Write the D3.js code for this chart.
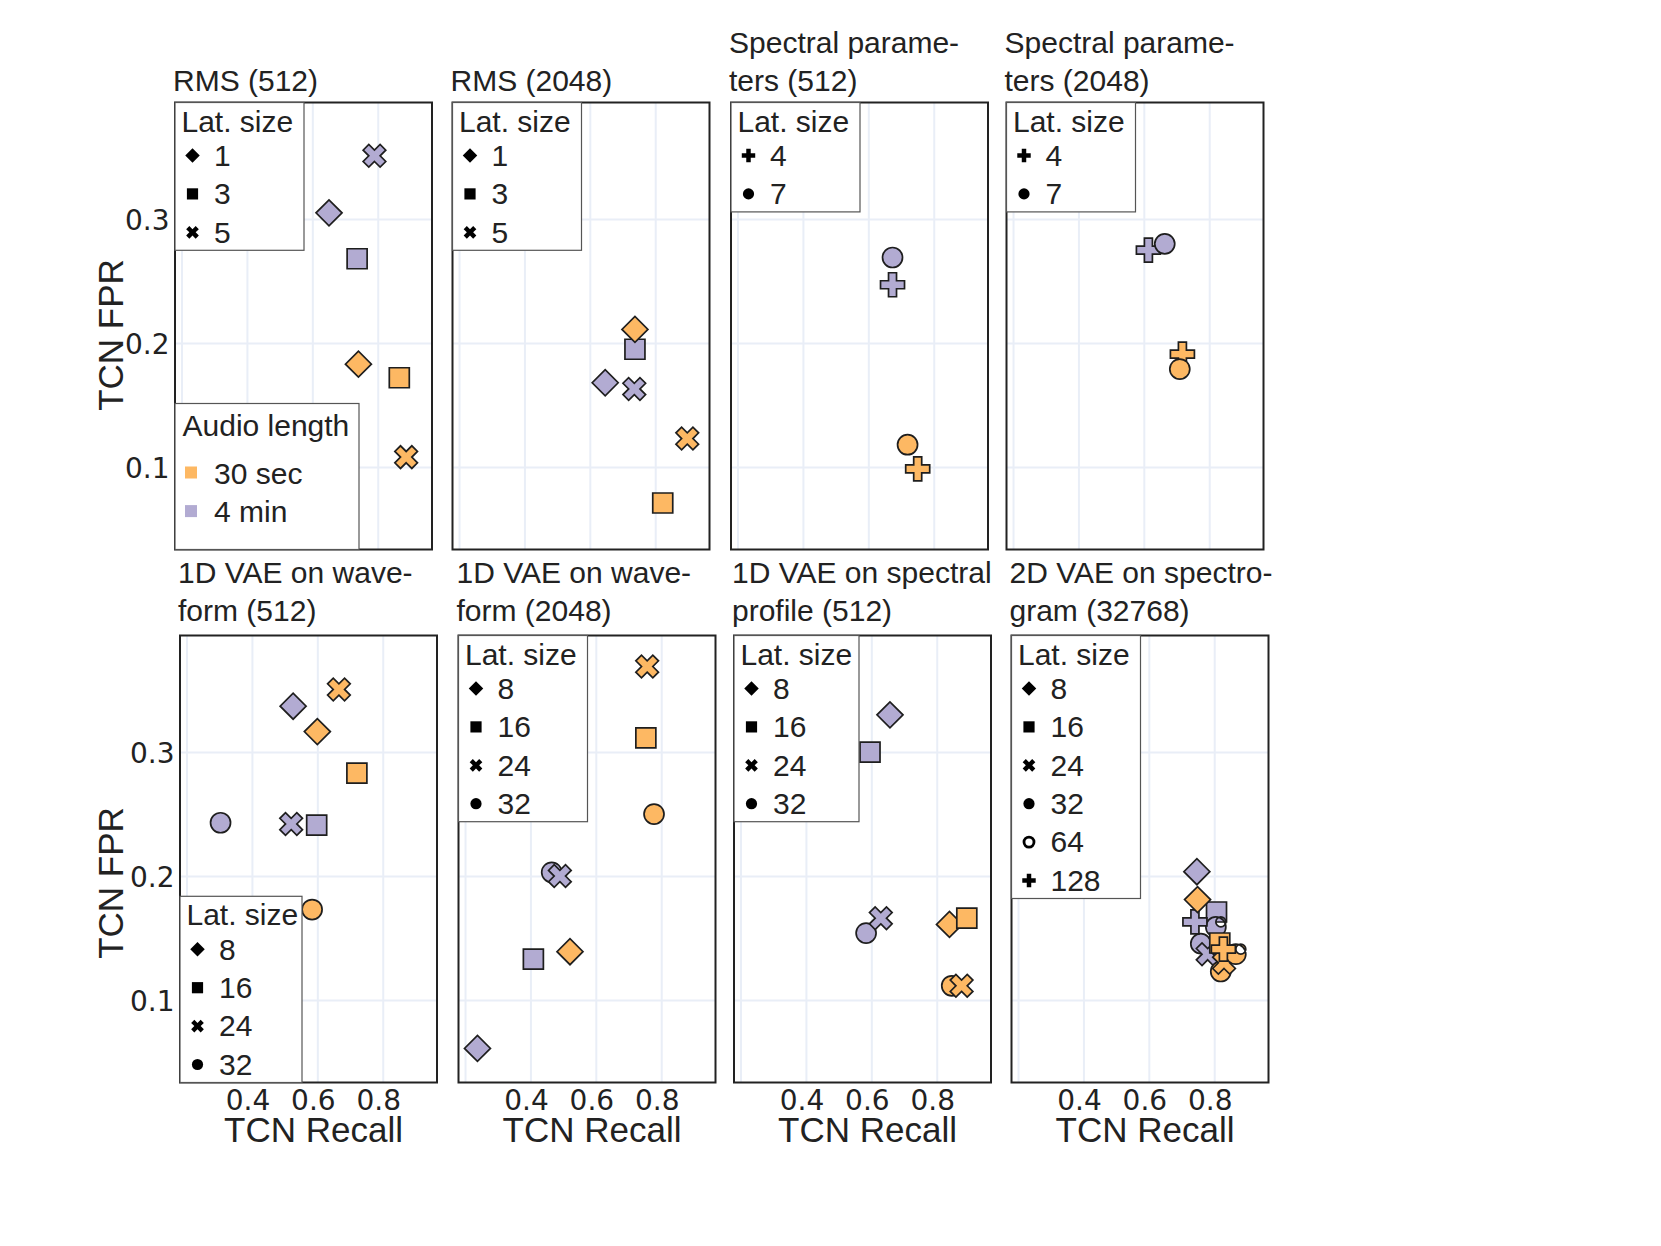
<!DOCTYPE html>
<html><head><meta charset="utf-8">
<script src="https://cdn.jsdelivr.net/npm/d3@7"></script>
<style>
body{margin:0;background:#fff}
svg{display:block}
text{font-family:"Liberation Sans",Arial,Helvetica,sans-serif;fill:#222}
text.tick-label{font-family:"DejaVu Sans",Verdana,sans-serif}
</style>
</head><body>
<svg id="chart" width="1661" height="1246"></svg>
<script>
// ---------------- data ----------------
const titles = [
  ["RMS (512)"],
  ["RMS (2048)"],
  ["Spectral parame-", "ters (512)"],
  ["Spectral parame-", "ters (2048)"],
  ["1D VAE on wave-", "form (512)"],
  ["1D VAE on wave-", "form (2048)"],
  ["1D VAE on spectral", "profile (512)"],
  ["2D VAE on spectro-", "gram (32768)"]
];
const latSizes = [
  [1, 3, 5], [1, 3, 5], [4, 7], [4, 7],
  [8, 16, 24, 32], [8, 16, 24, 32], [8, 16, 24, 32], [8, 16, 24, 32, 64, 128]
];
const latSymbols = [
  ["diamond", "square", "x"], ["diamond", "square", "x"],
  ["cross", "circle"], ["cross", "circle"],
  ["diamond", "square", "x", "circle"], ["diamond", "square", "x", "circle"],
  ["diamond", "square", "x", "circle"],
  ["diamond", "square", "x", "circle", "circle-open", "cross"]
];
const audioLengths = ["30 sec", "4 min"];

// 30 sec (orange)
const recall30 = [
  [0.741, 0.866, 0.887],
  [0.738, 0.823, 0.898],
  [0.751, 0.720],
  [0.718, 0.710],
  [0.600, 0.721, 0.666, 0.584],
  [0.521, 0.753, 0.757, 0.778],
  [0.839, 0.892, 0.876, 0.846],
  [0.749, 0.817, 0.830, 0.820, 0.866, 0.828]
];
const fpr30 = [
  [0.183, 0.172, 0.108],
  [0.211, 0.071, 0.123],
  [0.0985, 0.118],
  [0.191, 0.179],
  [0.3165, 0.283, 0.3505, 0.173],
  [0.139, 0.3115, 0.369, 0.250],
  [0.161, 0.166, 0.1115, 0.1115],
  [0.181, 0.146, 0.130, 0.123, 0.137, 0.141]
];
// 4 min (purple)
const recall4 = [
  [0.651, 0.737, 0.790],
  [0.647, 0.738, 0.736],
  [0.674, 0.674],
  [0.614, 0.664],
  [0.526, 0.598, 0.520, 0.304],
  [0.238, 0.409, 0.490, 0.465],
  [0.657, 0.596, 0.629, 0.584],
  [0.747, 0.807, 0.780, 0.759, 0.805, 0.741]
];
const fpr4 = [
  [0.305, 0.268, 0.351],
  [0.168, 0.195, 0.163],
  [0.247, 0.269],
  [0.275, 0.280],
  [0.337, 0.241, 0.242, 0.243],
  [0.061, 0.133, 0.200, 0.203],
  [0.330, 0.300, 0.166, 0.154],
  [0.2035, 0.171, 0.137, 0.1455, 0.159, 0.163]
];
const xGridTicks = [0.2, 0.4, 0.6, 0.8];
const xLabelTicks = [0.4, 0.6, 0.8];
const yTicks = [0.1, 0.2, 0.3];
const xDomain = [0.18, 0.966];
const yDomain = [0.0335, 0.394];

// ---------------- layout / style ----------------
const colors = {"30 sec": "#fdb863", "4 min": "#b2abd2"};
const gridColor = "#e9eef7";
const W = 257, H = 447;
const panelX = [175, 452.5, 731, 1006.5, 180, 458.5, 734, 1011.5];
const panelY = [102.5, 102.5, 102.5, 102.5, 635.5, 635.5, 635.5, 635.5];
const legendW = [129, 129, 129, 129, 122, 129, 125, 129];
const legendAtBottom = [false, false, false, false, true, false, false, false];
const titleBase = [91, 91, 91, 91, 621, 621, 621, 621];

function symbolPath(name, r) {
  const f = v => Math.round(v * 100) / 100;
  if (name === "diamond") { const d = f(r * 1.3); return `M${d},0L0,${d}L-${d},0L0,-${d}Z`; }
  if (name === "square") { const s = f(r); return `M${s},${s}H-${s}V-${s}H${s}Z`; }
  if (name === "circle") { return `M${r},0A${r},${r} 0 1,1 0,-${r}A${r},${r} 0 0,1 ${r},0Z`; }
  if (name === "circle-open") {
    const ri = r * 0.5;
    return `M${r},0A${r},${r} 0 1,1 0,-${r}A${r},${r} 0 0,1 ${r},0Z` +
           `M${ri},0A${ri},${ri} 0 1,0 0,-${ri}A${ri},${ri} 0 0,0 ${ri},0Z`;
  }
  if (name === "cross") {
    const a = f(r * 0.4), b = f(r * 1.2);
    return `M${b},${a}H${a}V${b}H-${a}V${a}H-${b}V-${a}H-${a}V-${b}H${a}V-${a}H${b}Z`;
  }
  if (name === "x") {
    const rx = f(r * 0.8 / Math.SQRT2);
    const ne = `l${rx},${rx}`, se = `l${rx},-${rx}`, sw = `l-${rx},-${rx}`, nw = `l-${rx},${rx}`;
    return `M0,${rx}` + ne + se + sw + se + sw + nw + sw + nw + ne + nw + ne + "Z";
  }
}

const svg = d3.select("#chart");
svg.append("rect").attr("width", 1661).attr("height", 1246).attr("fill", "#fff");

const x = d3.scaleLinear().domain(xDomain).range([0, W]);
const y = d3.scaleLinear().domain(yDomain).range([H, 0]);

titles.forEach((t, p) => {
  const g = svg.append("g").attr("transform", `translate(${panelX[p]},${panelY[p]})`);

  // gridlines
  const gx = g.append("g").attr("transform", `translate(0,${H})`)
    .call(d3.axisBottom(x).tickValues(xGridTicks).tickSize(-H).tickFormat(""));
  gx.select(".domain").remove();
  gx.selectAll("line").attr("stroke", gridColor).attr("stroke-width", 2);
  const gy = g.append("g")
    .call(d3.axisLeft(y).tickValues(yTicks).tickSize(-W).tickFormat(""));
  gy.select(".domain").remove();
  gy.selectAll("line").attr("stroke", gridColor).attr("stroke-width", 2);

  // markers: purple (4 min) first, then orange (30 sec)
  const n = latSizes[p].length;
  const order = d3.range(n);
  if (n >= 4) { order[2] = 3; order[3] = 2; } // 32 drawn before 24
  const series = [
    {len: "4 min", rx: recall4[p], fy: fpr4[p]},
    {len: "30 sec", rx: recall30[p], fy: fpr30[p]}
  ];
  series.forEach(s => {
    const pts = order.map(i => ({sym: latSymbols[p][i], r: s.rx[i], f: s.fy[i], len: s.len}));
    g.append("g").selectAll("path").data(pts).join("path")
      .attr("transform", d => `translate(${x(d.r)},${y(d.f)})`)
      .attr("d", d => symbolPath(d.sym, 10))
      .attr("fill", d => colors[d.len])
      .attr("fill-rule", "evenodd")
      .attr("stroke", "#1e1e1e")
      .attr("stroke-width", 1.7);
  });

  // frame
  g.append("rect").attr("width", W).attr("height", H)
    .attr("fill", "none").attr("stroke", "#222").attr("stroke-width", 2);

  // axes labels
  if (p >= 4) {
    const ax = g.append("g").attr("transform", `translate(0,${H})`)
      .call(d3.axisBottom(x).tickValues(xLabelTicks).tickSize(0).tickFormat(d3.format(".1f")));
    ax.select(".domain").remove();
    ax.attr("font-family", null).attr("font-size", null);
    ax.selectAll("text").attr("class", "tick-label").attr("y", 27).attr("dy", 0).attr("dx", -4.5)
      .style("font-size", "28px").attr("fill", "#111");
    g.append("text").attr("x", W / 2 + 5).attr("y", H + 59)
      .attr("text-anchor", "middle").style("font-size", "35px").text("TCN Recall");
  }
  if (p === 0 || p === 4) {
    const ay = g.append("g")
      .call(d3.axisLeft(y).tickValues(yTicks).tickSize(0).tickFormat(d3.format(".1f")));
    ay.select(".domain").remove();
    ay.attr("font-family", null).attr("font-size", null);
    ay.selectAll("text").attr("class", "tick-label").attr("x", -5.5).attr("dy", "0.37em")
      .style("font-size", "28px").attr("fill", "#111");
    const cy = p === 0 ? 335 - panelY[p] : 883 - panelY[p];
    g.append("text").attr("transform", `translate(${110.5 - panelX[p]},${cy}) rotate(-90)`)
      .attr("text-anchor", "middle").attr("dy", "0.358em")
      .style("font-size", "35px").text("TCN FPR");
  }

  // subplot title (bottom-anchored lines)
  t.forEach((line, i) => {
    svg.append("text").attr("x", panelX[p] - 2)
      .attr("y", titleBase[p] - (t.length - 1 - i) * 38)
      .style("font-size", "30px").text(line);
  });

  // lat size legend
  const lh = 53 + (n - 1) * 38.4 + 18;
  const ly = legendAtBottom[p] ? H - lh : 0;
  const lg = g.append("g").attr("transform", `translate(0,${ly})`);
  lg.append("rect").attr("width", legendW[p]).attr("height", lh)
    .attr("fill", "#fff").attr("stroke", "#555").attr("stroke-width", 1.2);
  lg.append("text").attr("x", 6.5).attr("y", 29).style("font-size", "30px").text("Lat. size");
  latSizes[p].forEach((ls, i) => {
    const cy = 53 + i * 38.4;
    const sym = latSymbols[p][i];
    if (sym === "circle-open") {
      lg.append("circle").attr("cx", 17.5).attr("cy", cy).attr("r", 5)
        .attr("fill", "none").attr("stroke", "#000").attr("stroke-width", 2.8);
    } else {
      lg.append("path").attr("transform", `translate(17.5,${cy})`)
        .attr("d", symbolPath(sym, 5.6)).attr("fill", "#000");
    }
    lg.append("text").attr("x", 39).attr("y", cy + 10.3).style("font-size", "30px").text(ls);
  });

  // audio length legend (first panel only)
  if (p === 0) {
    const ah = 146;
    const ag = g.append("g").attr("transform", `translate(0,${H - ah})`);
    ag.append("rect").attr("width", 184).attr("height", ah)
      .attr("fill", "#fff").attr("stroke", "#555").attr("stroke-width", 1.2);
    ag.append("text").attr("x", 7.5).attr("y", 32).style("font-size", "30px").text("Audio length");
    audioLengths.forEach((a, i) => {
      const cy = 69 + i * 38.6;
      ag.append("rect").attr("x", 10).attr("y", cy - 6).attr("width", 12).attr("height", 12)
        .attr("fill", colors[a]);
      ag.append("text").attr("x", 39).attr("y", cy + 11).style("font-size", "30px").text(a);
    });
  }
});
</script>
</body></html>
